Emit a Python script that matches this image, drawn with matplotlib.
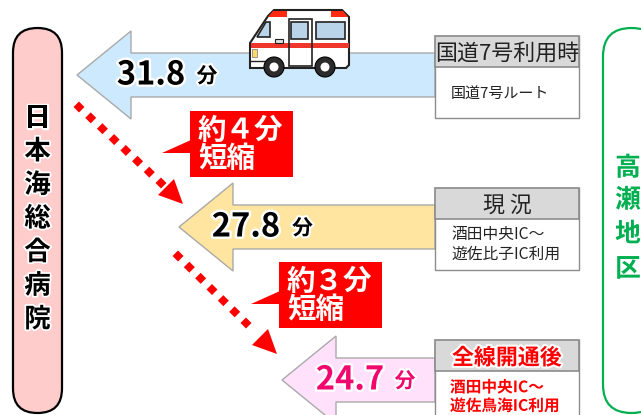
import matplotlib
matplotlib.use("Agg")
import matplotlib.pyplot as plt
import matplotlib.patheffects as pe
from matplotlib.patches import Polygon, Rectangle, Circle, FancyBboxPatch

plt.rcParams['font.family'] = ['Noto Sans CJK JP', 'DejaVu Sans']

# chart values
times = [31.8, 27.8, 24.7]
arrowColors = ['#CCE9FD', '#FFE59F', '#FFE1FB']
timeColors = ['black', 'black', '#F0086E']
headers = ['国道7号利用時', '現 況', '全線開通後']
routes = ['国道7号ルート', '酒田中央IC～\n遊佐比子IC利用', '酒田中央IC～\n遊佐鳥海IC利用']
routeColors = ['#222222', '#222222', '#FF0000']
saved = ['約４分\n短縮', '約３分\n短縮']
hospital = '日本海総合病院'
district = '高瀬地区'

# layout in pixels
arrowTop = [31, 183, 336]
arrowTips = [77, 179, 282]
boxTop = [36, 188, 340]
routeY = [59, 56, 56.5]
routeSize = [10.8, 11.3, 11.3]
savedBoxes = [(190, 111), (279, 262)]
dotStarts = [(79, 107), (178, 256)]
dotEnds = [(161, 183), (246, 323)]
dotCounts = [8, 7]
dotHeads = [[(174, 179), (158, 195), (183, 204)], [(268, 329), (252, 345), (277, 354)]]

fig = plt.figure(figsize=(6.41, 4.15), dpi=100)
ax = fig.add_axes([0, 0, 1, 1])
ax.set_xlim(0, 641)
ax.set_ylim(415, 0)
ax.axis('off')


def glowText(x, y, s, size, color='black', glow='white', weight='bold', width=3, **kw):
    t = ax.text(x, y, s, fontsize=size, color=color, fontweight=weight,
                ha=kw.pop('ha', 'center'), va=kw.pop('va', 'center'), **kw)
    t.set_path_effects([pe.withStroke(linewidth=width, foreground=glow)])
    return t


def pill(x0, y0, x1, y1, edge, face, lw):
    r = (x1 - x0) / 2
    p = FancyBboxPatch((x0 + r, y0 + r), 0, y1 - y0 - 2 * r,
                       boxstyle="round,pad=%f,rounding_size=%f" % (r, r),
                       fc=face, ec=edge, lw=lw, clip_on=True, zorder=2)
    ax.add_patch(p)


def drawArrow(tip, top, color):
    head = tip + 54
    pts = [(tip, top + 44), (head, top), (head, top + 22), (435, top + 22),
           (435, top + 66), (head, top + 66), (head, top + 88)]
    ax.add_patch(Polygon(pts, closed=True, fc=color, ec='#A9A9A9', lw=1, zorder=1))


def drawBox(top, header, route, color, i):
    ax.add_patch(Rectangle((435, top), 144, 82, fc='white', ec='#8C8C8C', lw=1, zorder=3))
    ax.add_patch(Rectangle((435, top), 144, 31, fc='#D9D9D9', ec='#8C8C8C', lw=1.2, zorder=3))
    if i == 2:
        glowText(507, top + 18, header, 15.8, color='#FF0000', zorder=4)
        glowText(450, top + routeY[i], route, routeSize[i], color=color, ha='left', width=1.5,
                 linespacing=1.2, zorder=4)
    else:
        ax.text(507, top + 18, header, fontsize=15.8, color='#222222',
                ha='center', va='center', zorder=4)
        ax.text(451, top + routeY[i], route, fontsize=routeSize[i], color=color, ha='left',
                va='center', linespacing=1.2, zorder=4)


def drawDots(start, end, count, head):
    dx = (end[0] - start[0]) / (count - 1)
    dy = (end[1] - start[1]) / (count - 1)
    for k in range(count):
        x = start[0] + dx * k
        y = start[1] + dy * k
        ax.add_patch(Polygon([(x - 5.5, y), (x, y - 5.5), (x + 5.5, y), (x, y + 5.5)],
                             closed=True, fc='#FF0000', ec='none', zorder=3))
    ax.add_patch(Polygon(head, closed=True, fc='#FF0000', ec='none', zorder=3))


def drawSaved(x, y, s):
    ax.add_patch(Rectangle((x, y), 103, 66, fc='#FF0000', ec='none', zorder=3))
    ax.add_patch(Polygon([(x + 1, y + 29), (x - 28, y + 42), (x + 1, y + 42)],
                         closed=True, fc='#FF0000', ec='none', zorder=3))
    ax.text(x + 8, y + 34, s, fontsize=20.5, color='white', fontweight='bold',
            ha='left', va='center', linespacing=1.03, zorder=4)


def drawAmbulance():
    body = [(250, 65), (250, 43), (268, 16), (274, 10), (342, 10), (349, 17), (349, 65),
            (346, 68), (250, 68)]
    ax.add_patch(Polygon(body, closed=True, fc='white', ec='#222222', lw=1.5, zorder=5))
    ax.add_patch(Rectangle((250.5, 43), 98, 5, fc='#F0352A', ec='none', zorder=6))
    ax.add_patch(Polygon([(268, 17), (273, 11), (287, 11), (287, 17)], closed=True,
                         fc='#FF2A10', ec='none', zorder=6))
    ax.add_patch(Polygon([(331, 11), (343, 11), (348, 17), (331, 17)], closed=True,
                         fc='#FF2A10', ec='none', zorder=6))
    ax.add_patch(Polygon([(270, 22), (270, 37), (257, 37), (266, 22)], closed=True,
                         fc='#B9D3E8', ec='#222222', lw=1.2, zorder=6))
    ax.add_patch(Rectangle((289, 19), 23, 47, fc='none', ec='#222222', lw=1.2, zorder=6))
    ax.add_patch(Rectangle((291, 22), 17, 17, fc='#B9D3E8', ec='#222222', lw=1.2, zorder=7))
    ax.add_patch(Rectangle((316, 22), 29, 17, fc='#B9D3E8', ec='#222222', lw=1.2, zorder=6))
    ax.add_patch(Rectangle((275, 39), 8, 4, fc='#DDDDDD', ec='#222222', lw=0.8, zorder=7))
    ax.add_patch(Rectangle((252, 49), 5, 8, fc='#FFD966', ec='#888888', lw=0.6, zorder=6))
    ax.plot([250, 266], [61, 61], color='#222222', lw=1, zorder=6)
    for cx in [274, 325]:
        ax.add_patch(Circle((cx, 67), 10, fc='#2B2B2B', ec='black', lw=0.8, zorder=8))
        ax.add_patch(Circle((cx, 67), 4.5, fc='white', ec='none', zorder=9))


pill(13, 28, 62, 413, 'black', '#FFCCCC', 1.6)
pill(603, 28, 660, 413, '#00B050', 'white', 1.6)

for i, ch in enumerate(hospital):
    glowText(37.5, 118 + i * 33.6, ch, 19, width=2.5, zorder=4)
for ch, y in zip(district, [168, 200, 234, 269]):
    glowText(628, y, ch, 18.5, color='#00B050', width=2, zorder=4)

for i in range(3):
    drawArrow(arrowTips[i], arrowTop[i], arrowColors[i])
    drawBox(boxTop[i], headers[i], routes[i], routeColors[i], i)

drawAmbulance()

numX = [151, 246, 350]
unitX = [207, 302.5, 405]
for i in range(3):
    y = arrowTop[i] + 44
    glowText(numX[i], y, str(times[i]), 23.5, color=timeColors[i], width=3.5, zorder=4)
    glowText(unitX[i], y + 1, '分', 15, color=timeColors[i], width=3, zorder=4)

for i in range(2):
    drawDots(dotStarts[i], dotEnds[i], dotCounts[i], dotHeads[i])
for (x, y), s in zip(savedBoxes, saved):
    drawSaved(x, y, s)

fig.savefig("out.png", dpi=100)
